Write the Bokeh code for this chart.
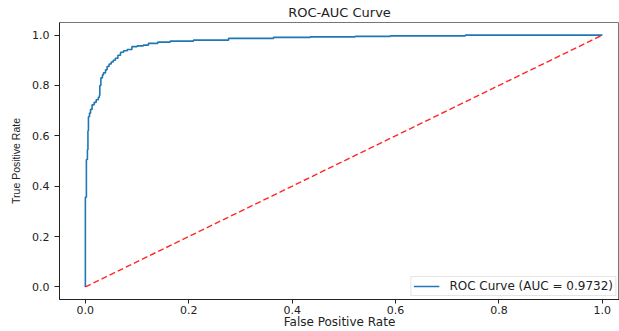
from bokeh.plotting import figure
from bokeh.models import Range1d, FixedTicker, PrintfTickFormatter, Legend, LegendItem
from bokeh.embed import file_html
from bokeh.resources import INLINE

# ROC curve corner points (fpr where tpr rises, new tpr)
fpr = [0.0, 0.0, 0.002, 0.004, 0.005, 0.006, 0.008, 0.010, 0.013, 0.017, 0.021, 0.025, 0.027,
       0.028, 0.030, 0.033, 0.035, 0.039, 0.042, 0.046, 0.050, 0.054, 0.058, 0.063, 0.068,
       0.074, 0.081, 0.090, 0.100, 0.112, 0.122, 0.140, 0.164, 0.209, 0.277, 0.364, 0.435,
       0.522, 0.590, 0.735, 1.0]
tpr = [0.0, 0.356, 0.506, 0.545, 0.620, 0.676, 0.690, 0.705, 0.723, 0.733, 0.743, 0.752, 0.760,
       0.800, 0.830, 0.842, 0.850, 0.862, 0.875, 0.885, 0.893, 0.900, 0.908, 0.920, 0.932,
       0.938, 0.943, 0.954, 0.957, 0.960, 0.967, 0.972, 0.976, 0.980, 0.987, 0.991, 0.993,
       0.995, 0.997, 1.0, 1.0]
diag_x = [0.0, 1.0]
diag_y = [0.0, 1.0]
ticks = [0.0, 0.2, 0.4, 0.6, 0.8, 1.0]
auc_value = 0.9732
title_text = "ROC-AUC Curve"
xlabel = "False Positive Rate"
ylabel = "True Positive Rate"

W, H = 619, 331
left, top, bottom = 59, 22, 30
frame_w = W - left
p = figure(width=W, height=H, output_backend="svg", toolbar_location=None,
           x_range=Range1d(-0.05, -0.05 + frame_w / 517.0), y_range=Range1d(-0.05, 1.05),
           min_border_left=left, min_border_right=0, min_border_top=top, min_border_bottom=bottom,
           title=title_text)
p.title.align = "center"
p.title.offset = 5
p.title.standoff = 5
p.title.text_font = "DejaVu Sans"
p.title.text_font_size = "13px"
p.title.text_font_style = "normal"
p.title.text_color = "#222222"
p.background_fill_color = "white"
p.border_fill_color = "white"
p.outline_line_color = "#777777"
p.outline_line_width = 1
p.xgrid.visible = False
p.ygrid.visible = False

for ax in (p.xaxis[0], p.yaxis[0]):
    ax.ticker = FixedTicker(ticks=ticks)
    ax.formatter = PrintfTickFormatter(format="%.1f")
    ax.minor_tick_line_color = None
    ax.major_tick_in = 0
    ax.axis_line_color = "#222222"
    ax.major_tick_line_color = "#222222"
    ax.major_label_text_font = "DejaVu Sans"
    ax.major_label_text_font_size = "11px"
    ax.major_label_text_color = "#222222"
    ax.axis_label_text_font_style = "normal"
    ax.axis_label_text_color = "#222222"

p.xaxis.major_tick_out = 4
p.xaxis.major_label_standoff = 2
p.xaxis.axis_label = xlabel
p.xaxis.axis_label_text_font = "DejaVu Sans"
p.xaxis.axis_label_text_font_size = "12px"
p.xaxis.axis_label_standoff = -2

p.yaxis.major_tick_out = 5
p.yaxis.major_label_standoff = 5
p.yaxis.axis_label = ylabel
p.yaxis.axis_label_text_font = "Liberation Sans"
p.yaxis.axis_label_text_font_size = "10.5px"
p.yaxis.axis_label_standoff = 7

r_roc = p.step(fpr, tpr, mode="after", line_color="#1f77b4", line_width=1.6)
p.line(diag_x, diag_y, line_color="red", line_width=1.4, line_dash="6 3", line_alpha=0.85)

legend = Legend(items=[LegendItem(label=f"ROC Curve (AUC = {auc_value:.4f})", renderers=[r_roc])],
                location="bottom_right", margin=3, padding=2, spacing=0,
                label_text_font="DejaVu Sans", label_text_font_size="12px", label_text_color="#222222",
                label_height=14, glyph_height=14, glyph_width=26, label_standoff=10,
                border_line_color="#cccccc", border_line_width=1, background_fill_alpha=0.9)
p.add_layout(legend, "center")

open("out.html", "w").write(file_html(p, INLINE))
